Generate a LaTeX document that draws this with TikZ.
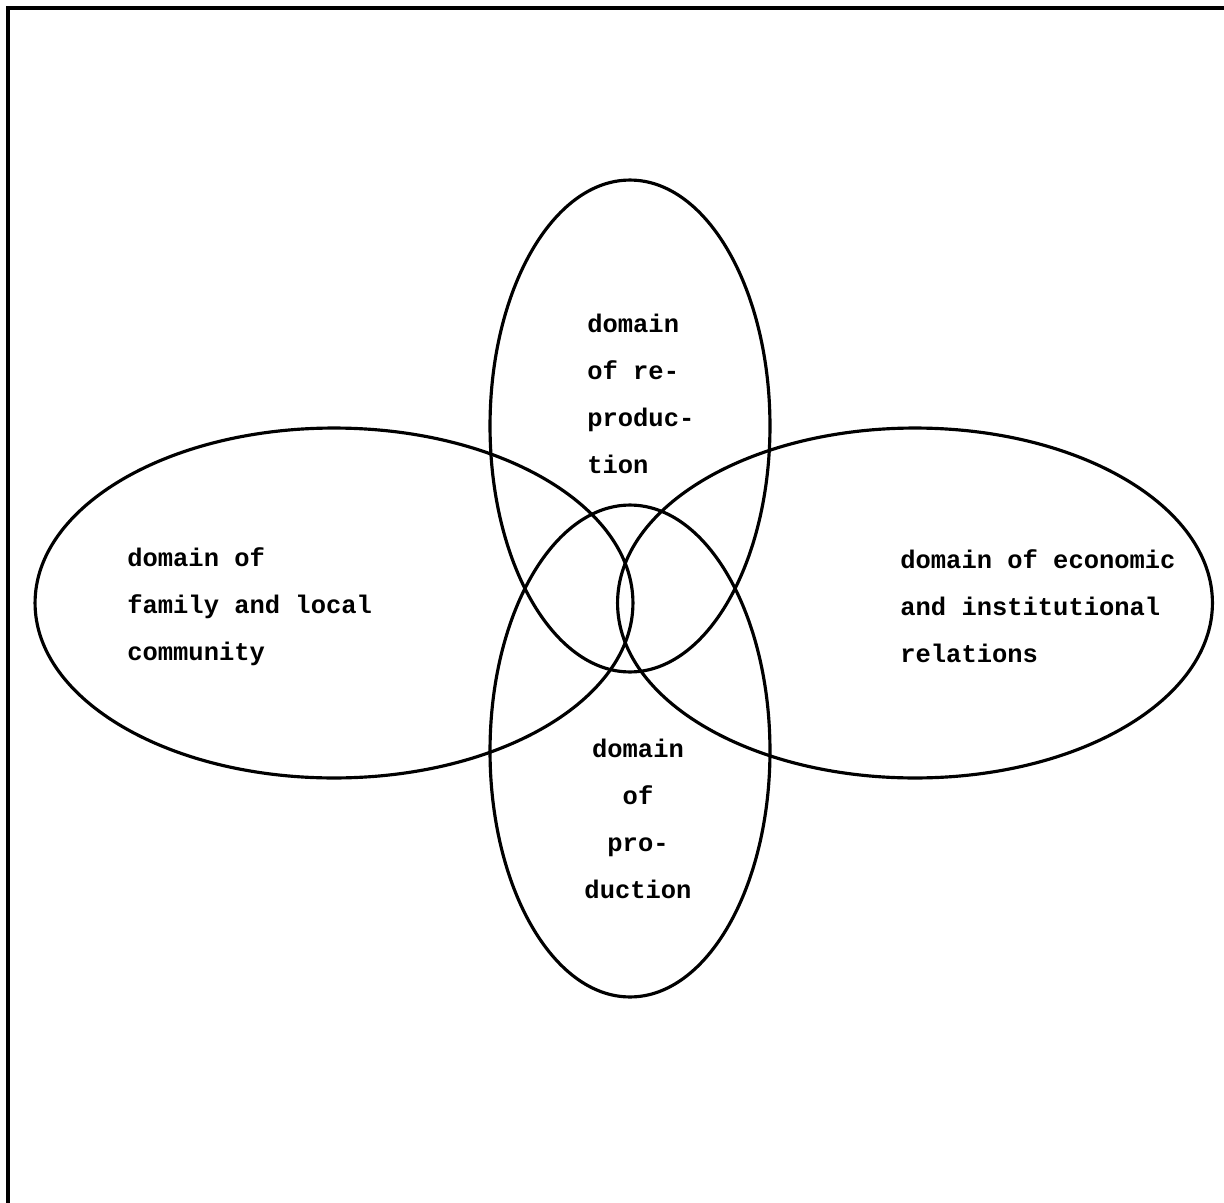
\documentclass[tikz,border=0pt]{standalone}
\usepackage{fontspec}
\setmonofont{Liberation Mono}
\usetikzlibrary{shapes.geometric}

\begin{document}
\begin{tikzpicture}[x=0.02cm, y=-0.02cm,
  ring/.style={draw, ellipse, line width=1.8pt, inner sep=0pt},
  ringtext/.style={font=\fontsize{14.5}{26.7}\selectfont\ttfamily\bfseries, inner sep=0pt}]
  \useasboundingbox (0,0) rectangle (1224,1203);
  % frame, cut at the right and bottom
  \draw[line width=2pt] (1230,8) -- (8,8) -- (8,1210);
  % the four domains
  \node[ring, minimum width=11.96cm, minimum height=7cm] (family) at (334,603) {};
  \node[ring, minimum width=11.9cm, minimum height=7cm] (economy) at (915,603) {};
  \node[ring, minimum width=5.6cm, minimum height=9.84cm] (repro) at (630,426) {};
  \node[ring, minimum width=5.6cm, minimum height=9.84cm] (prod) at (630,751) {};
  % texts
  \node[ringtext, align=left, anchor=west] (familytext) at (127,607) {domain of\\family and local\\community};
  \node[ringtext, align=left, anchor=west] (economytext) at (900,606) {domain of economic\\and institutional\\relations};
  \node[ringtext, align=left, anchor=west] (reprotext) at (587,394) {domain\\of re-\\produc-\\tion};
  \node[ringtext, align=center] (prodtext) at (638,819) {domain\\of\\pro-\\duction};
\end{tikzpicture}
\end{document}
